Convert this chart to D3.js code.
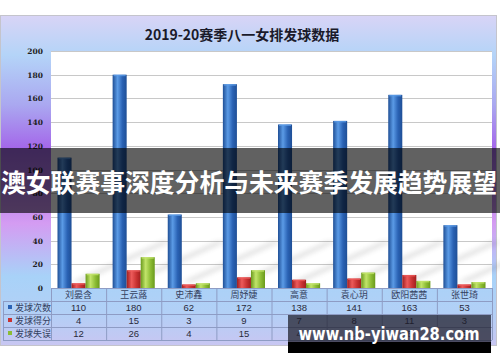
<!DOCTYPE html>
<html>
<head>
<meta charset="utf-8">
<script src="https://cdn.jsdelivr.net/npm/d3@7"></script>
<style>
  body { margin: 0; background: #fff; }
  svg { display: block; }
  .cjk { font-family: "Noto Sans CJK SC", sans-serif; }
</style>
</head>
<body>
<script>
// chart data
var title = "2019-20赛季八一女排发球数据";
var players = ["刘晏含", "王云蕗", "史沛鑫", "周妤婕", "高意", "袁心玥", "欧阳茜茜", "张世琦"];
var seriesNames = ["发球次数", "发球得分", "发球失误"];
var serveTotal = [110, 180, 62, 172, 138, 141, 163, 53];
var serveAces = [4, 15, 3, 9, 7, 8, 11, 3];
var serveErrors = [12, 26, 4, 15, 4, 13, 6, 5];
var yTicks = [0, 20, 40, 60, 80, 100, 120, 140, 160, 180, 200];
var banner = "澳女联赛事深度分析与未来赛季发展趋势展望";
var watermark = "www.nb-yiwan28.com";

var seriesValues = [serveTotal, serveAces, serveErrors];
var seriesColours = [
    ["#1f4f96", "#5b9be6", "#2a62b4"],
    ["#a01e1e", "#ec5a5a", "#c83232"],
    ["#6a9a1c", "#c2e46a", "#8cbc34"]
];

var width = 500, height = 362;
var plot = { left: 51, right: 492, top: 51, bottom: 288 };
var rowH = 13;

var svg = d3.select("body").append("svg")
    .attr("width", width)
    .attr("height", height);

var defs = svg.append("defs");

// frame background gradient
var bg = defs.append("linearGradient").attr("id", "bgGrad")
    .attr("x1", 0).attr("y1", 0).attr("x2", 0).attr("y2", 1);
[["0", "#d8d4f6"], ["0.12", "#b4d4f8"], ["0.27", "#aaa8f0"], ["0.40", "#a468ea"],
 ["0.55", "#bf86ef"], ["0.63", "#d49cf2"], ["0.79", "#a8d2f8"], ["0.9", "#b2d0f6"], ["1", "#c8c6f2"]]
    .forEach(function(s) {
        bg.append("stop").attr("offset", s[0]).attr("stop-color", s[1]);
    });

// bar gradients (cylinder look)
seriesColours.forEach(function(c, i) {
    var g = defs.append("linearGradient").attr("id", "barGrad" + i)
        .attr("x1", 0).attr("y1", 0).attr("x2", 1).attr("y2", 0);
    g.append("stop").attr("offset", "0").attr("stop-color", c[0]);
    g.append("stop").attr("offset", "0.35").attr("stop-color", c[1]);
    g.append("stop").attr("offset", "0.7").attr("stop-color", c[2]);
    g.append("stop").attr("offset", "1").attr("stop-color", c[0]);
});

defs.append("filter").attr("id", "blur")
    .append("feGaussianBlur").attr("stdDeviation", 2.5);

// frame
svg.append("rect")
    .attr("x", 0.5).attr("y", 15.5)
    .attr("width", 496).attr("height", 330)
    .attr("fill", "url(#bgGrad)")
    .attr("stroke", "#c4c4cc");

svg.append("text")
    .attr("class", "cjk")
    .attr("x", 242).attr("y", 40)
    .attr("text-anchor", "middle")
    .attr("font-size", 14)
    .attr("font-weight", 700)
    .attr("fill", "#1a1a2a")
    .text(title);

// scales
var x = d3.scaleBand().domain(players).range([plot.left, plot.right]);
var xs = d3.scaleBand().domain(d3.range(3)).range([6.5, x.bandwidth() - 6.5]);
var y = d3.scaleLinear().domain([0, 200]).range([plot.bottom, plot.top]);

// plot area
svg.append("rect")
    .attr("x", plot.left).attr("y", plot.top)
    .attr("width", plot.right - plot.left)
    .attr("height", plot.bottom - plot.top)
    .attr("fill", "#fff");

svg.append("g").selectAll("line").data(yTicks).enter().append("line")
    .attr("x1", plot.left).attr("x2", plot.right)
    .attr("y1", function(d) { return Math.round(y(d)) + 0.5; })
    .attr("y2", function(d) { return Math.round(y(d)) + 0.5; })
    .attr("stroke", "#c8c8c8");

svg.append("g").selectAll("text").data(yTicks).enter().append("text")
    .attr("x", 43)
    .attr("y", function(d) { return y(d) + 3; })
    .attr("text-anchor", "end")
    .attr("font-family", "DejaVu Serif, serif")
    .attr("font-size", 7.5)
    .attr("font-weight", 700)
    .attr("fill", "#222")
    .text(function(d) { return d; });

// faint diagonal shadows cast by the tall bars
svg.append("g").attr("filter", "url(#blur)").attr("opacity", 0.18)
    .selectAll("path").data(players).enter().append("path")
    .attr("d", function(d) {
        var x0 = x(d) + xs(0) + xs.bandwidth(), b = plot.bottom - 6, L = 90;
        return "M" + x0 + "," + b + "L" + (x0 + 10) + "," + b +
            "L" + (x0 + 10 + L) + "," + (b - L * 0.45) + "L" + (x0 + L) + "," + (b - L * 0.45) + "Z";
    })
    .attr("fill", "#555");

// bars
var groups = svg.append("g").selectAll("g").data(players).enter().append("g")
    .attr("transform", function(d) { return "translate(" + x(d) + ",0)"; });

groups.selectAll("rect.bar").data(function(d, i) {
        return seriesValues.map(function(v, s) { return { s: s, v: v[i] }; });
    }).enter().append("rect")
    .attr("class", "bar")
    .attr("x", function(d) { return xs(d.s); })
    .attr("y", function(d) { return y(d.v); })
    .attr("width", xs.bandwidth())
    .attr("height", function(d) { return plot.bottom - y(d.v); })
    .attr("fill", function(d) { return "url(#barGrad" + d.s + ")"; });

// lighter top cap
groups.selectAll("rect.cap").data(function(d, i) {
        return seriesValues.map(function(v, s) { return { s: s, v: v[i] }; });
    }).enter().append("rect")
    .attr("class", "cap")
    .attr("x", function(d) { return xs(d.s) + 1; })
    .attr("y", function(d) { return y(d.v); })
    .attr("width", xs.bandwidth() - 2)
    .attr("height", 1.5)
    .attr("fill", function(d) { return seriesColours[d.s][1]; })
    .attr("opacity", 0.8);

// data table
var tTop = plot.bottom;
var table = svg.append("g");
var gridCol = "#8e9cc4";

d3.range(5).forEach(function(r) {
    table.append("line")
        .attr("x1", r === 0 ? plot.left : 3).attr("x2", plot.right)
        .attr("y1", tTop + r * rowH + 0.5).attr("y2", tTop + r * rowH + 0.5)
        .attr("stroke", gridCol);
});
x.domain().concat([null]).forEach(function(d) {
    var xx = d === null ? plot.right : x(d);
    table.append("line")
        .attr("x1", xx + 0.5).attr("x2", xx + 0.5)
        .attr("y1", tTop).attr("y2", tTop + 4 * rowH)
        .attr("stroke", gridCol);
});
table.append("line")
    .attr("x1", 3.5).attr("x2", 3.5)
    .attr("y1", tTop + rowH).attr("y2", tTop + 4 * rowH)
    .attr("stroke", gridCol);

table.selectAll("text.cat").data(players).enter().append("text")
    .attr("class", "cjk")
    .attr("x", function(d) { return x(d) + x.bandwidth() / 2; })
    .attr("y", tTop + 10)
    .attr("text-anchor", "middle")
    .attr("font-size", 9)
    .attr("fill", "#34405e")
    .text(function(d) { return d; });

seriesNames.forEach(function(name, s) {
    var ry = tTop + (s + 1) * rowH;
    table.append("rect")
        .attr("x", 8).attr("y", ry + 4)
        .attr("width", 4).attr("height", 4)
        .attr("fill", seriesColours[s][2]);
    table.append("text")
        .attr("class", "cjk")
        .attr("x", 15).attr("y", ry + 10)
        .attr("font-size", 9)
        .attr("fill", "#34405e")
        .text(name);
    table.selectAll("text.v" + s).data(seriesValues[s]).enter().append("text")
        .attr("x", function(d, i) { return x(players[i]) + x.bandwidth() / 2; })
        .attr("y", ry + 10)
        .attr("text-anchor", "middle")
        .attr("font-family", "Liberation Sans, Arial, sans-serif")
        .attr("font-size", 9.5)
        .attr("fill", "#2a2a3a")
        .text(function(d) { return d; });
});

// overlay banner
svg.append("rect")
    .attr("x", 0).attr("y", 148)
    .attr("width", width).attr("height", 65)
    .attr("fill", "#000")
    .attr("opacity", 0.62);

svg.append("text")
    .attr("class", "cjk")
    .attr("x", 249).attr("y", 192)
    .attr("text-anchor", "middle")
    .attr("font-size", 25)
    .attr("font-weight", 700)
    .attr("fill", "#fff")
    .attr("textLength", 496)
    .attr("lengthAdjust", "spacingAndGlyphs")
    .text(banner);

// watermark box
svg.append("rect")
    .attr("x", 288).attr("y", 315)
    .attr("width", 203).attr("height", 28)
    .attr("fill", "#1c1c28")
    .attr("opacity", 0.72);
svg.append("rect")
    .attr("x", 288).attr("y", 342)
    .attr("width", 203).attr("height", 11)
    .attr("fill", "#000");

svg.append("text")
    .attr("x", 389).attr("y", 340)
    .attr("text-anchor", "middle")
    .attr("font-family", "DejaVu Sans, sans-serif")
    .attr("font-size", 17)
    .attr("font-weight", 700)
    .attr("fill", "#fff")
    .attr("textLength", 181)
    .attr("lengthAdjust", "spacingAndGlyphs")
    .text(watermark);
</script>
</body>
</html>
